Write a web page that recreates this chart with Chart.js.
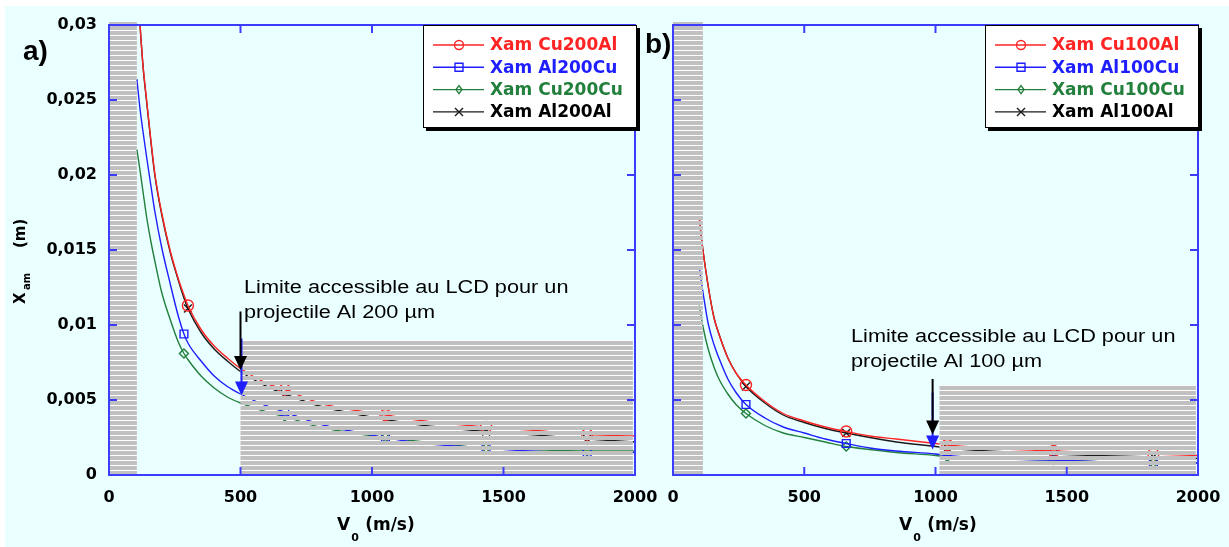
<!DOCTYPE html>
<html>
<head>
<meta charset="utf-8">
<script src="https://cdn.jsdelivr.net/npm/chart.js@4.4.1/dist/chart.umd.min.js"></script>
<style>
  body { margin: 0; background: #fff; }
  #wrap { position: absolute; left: 5px; top: 6px; width: 1224px; height: 541px; background: #eaffff; overflow: hidden; }
  #chartA { position: absolute; left: 0; top: 0; }
  #chartB { position: absolute; left: 638px; top: 0; }
</style>
</head>
<body>
<div id="wrap">
  <canvas id="chartA" width="660" height="541"></canvas>
  <canvas id="chartB" width="586" height="541"></canvas>
</div>
<script>
// a) projectiles 200 µm
const v0A = [106, 118, 130, 143, 160, 175, 200, 232, 265, 285, 300, 350, 400, 450, 500, 600, 668, 800, 1051, 1200, 1434, 1600, 1818, 2000];
const xamCu200Al = [0.0335, 0.0300, 0.0272, 0.0250, 0.0222, 0.0200, 0.0175, 0.0150, 0.0130, 0.0120, 0.0113, 0.0097, 0.0086, 0.0078, 0.0071, 0.0061, 0.0057, 0.0048, 0.0040, 0.0036, 0.0032, 0.0030, 0.0027, 0.0026];
const xamAl200Cu = [0.0264, 0.0244, 0.0228, 0.0212, 0.0192, 0.0175, 0.0152, 0.0128, 0.0105, 0.0094, 0.0088, 0.0076, 0.0066, 0.0059, 0.0054, 0.0046, 0.0042, 0.0034, 0.0025, 0.0021, 0.0018, 0.0016, 0.0015, 0.0015];
const xamCu200Cu = [0.0217, 0.0203, 0.0188, 0.0172, 0.0155, 0.0142, 0.0122, 0.0104, 0.0088, 0.0081, 0.0077, 0.0066, 0.0058, 0.0052, 0.0048, 0.0042, 0.0039, 0.0032, 0.0025, 0.0022, 0.0018, 0.0017, 0.0016, 0.0016];
const xamAl200Al = [0.0335, 0.0300, 0.0271, 0.0249, 0.0221, 0.0199, 0.0174, 0.0149, 0.0129, 0.0118, 0.0111, 0.0095, 0.0084, 0.0076, 0.0069, 0.0059, 0.0054, 0.0046, 0.0037, 0.0033, 0.0029, 0.0027, 0.0024, 0.0022];
const marquesA1 = [300, 668, 1051, 1434, 1818];   // Cu200Al, Al200Al
const marquesA2 = [285, 668, 1051, 1434, 1818];   // Al200Cu, Cu200Cu
const zonesA = [[0, 106, 0, 0.0302], [500, 1992, 0, 0.0090]];   // [v0 min, v0 max, x min, x max]

// b) projectiles 100 µm
const v0B = [100, 107, 114, 134, 156, 175, 209, 240, 278, 350, 420, 500, 580, 660, 750, 850, 1000, 1045, 1200, 1450, 1600, 1830, 2000];
const xamCu100Al = [0.0172, 0.0160, 0.0150, 0.0126, 0.0105, 0.0094, 0.0078, 0.0068, 0.0060, 0.0049, 0.0041, 0.0036, 0.0032, 0.0029, 0.0026, 0.0024, 0.0021, 0.0020, 0.0018, 0.0016, 0.0015, 0.0014, 0.0013];
const xamAl100Cu = [0.0139, 0.0130, 0.0122, 0.0101, 0.0087, 0.0078, 0.0064, 0.0055, 0.0047, 0.0038, 0.0032, 0.0028, 0.0024, 0.0021, 0.0018, 0.0016, 0.0014, 0.0013, 0.0011, 0.0010, 0.0009, 0.0008, 0.0008];
const xamCu100Cu = [0.0113, 0.0106, 0.0099, 0.0084, 0.0072, 0.0064, 0.0054, 0.0047, 0.0041, 0.0033, 0.0028, 0.0025, 0.0022, 0.0019, 0.0017, 0.0015, 0.0013, 0.0012, 0.0011, 0.0010, 0.0009, 0.0008, 0.0008];
const xamAl100Al = [0.0172, 0.0160, 0.0150, 0.0126, 0.0105, 0.0094, 0.0078, 0.0068, 0.0059, 0.0048, 0.0040, 0.0035, 0.0031, 0.0028, 0.0025, 0.0022, 0.0019, 0.0018, 0.0016, 0.0014, 0.0013, 0.0012, 0.0011];
const marquesB = [278, 660, 1045, 1450, 1830];
const zonesB = [[0, 114, 0, 0.0302], [1015, 1992, 0, 0.0060]];

const ROUGE = '#ff2424', BLEU = '#1e1eff', VERT = '#22803c', NOIR = '#1a1a1a';
const AXE = '#3c3cff';
const POLICE = '"DejaVu Sans", Verdana, sans-serif';

function serie(label, xs, ys, color, style, marques) {
  return {
    label,
    data: xs.map((v, i) => ({ x: v, y: ys[i] })),
    borderColor: color,
    backgroundColor: 'rgba(0,0,0,0)',
    borderWidth: 1.4,
    pointStyle: style,
    pointBorderColor: color,
    pointBackgroundColor: 'rgba(0,0,0,0)',
    pointBorderWidth: 1.4,
    pointRadius: c => (c.raw && marques.includes(c.raw.x)) ? (style === 'rectRot' ? 4.5 : 5.5) : 0,
    cubicInterpolationMode: 'monotone',
  };
}

function marqueur(ctx, style, x, y, color) {
  ctx.save();
  ctx.strokeStyle = color; ctx.lineWidth = 1.4;
  ctx.beginPath();
  if (style === 'circle') ctx.arc(x, y, 4.5, 0, Math.PI * 2);
  else if (style === 'rect') ctx.rect(x - 4, y - 4, 8, 8);
  else if (style === 'rectRot') { ctx.moveTo(x, y - 4); ctx.lineTo(x + 3, y); ctx.lineTo(x, y + 4); ctx.lineTo(x - 3, y); ctx.closePath(); }
  else { ctx.moveTo(x - 4, y - 4); ctx.lineTo(x + 4, y + 4); ctx.moveTo(x + 4, y - 4); ctx.lineTo(x - 4, y + 4); }
  ctx.stroke();
  ctx.restore();
}

function zone(chart, z) {
  const { x, y } = chart.scales;
  return { l: x.getPixelForValue(z[0]), r: x.getPixelForValue(z[1]), t: y.getPixelForValue(z[3]), b: y.getPixelForValue(z[2]) };
}

// texte étiré horizontalement (la figure d'origine est étirée)
function texteEtire(ctx, str, x, y, sx) {
  ctx.save();
  ctx.translate(x, y);
  ctx.scale(sx, 1);
  ctx.fillText(str, 0, 0);
  ctx.restore();
}

const decoPlugin = {
  id: 'deco',
  beforeDatasetsDraw(chart, _a, o) {
    const ctx = chart.ctx;
    ctx.save();
    ctx.fillStyle = '#ffffff';
    o.zones.forEach(z => { const r = zone(chart, z); ctx.fillRect(r.l, r.t, r.r - r.l, r.b - r.t); });
    ctx.restore();
  },
  afterDatasetsDraw(chart, _a, o) {
    const { ctx, chartArea: ca, scales: { x, y } } = chart;
    ctx.save();
    // hachures
    ctx.fillStyle = '#c0c0c0';
    o.zones.forEach(z => {
      const r = zone(chart, z);
      for (let yy = r.b; yy > r.t; yy -= 5) {
        const top = Math.max(r.t, yy - 4);
        ctx.fillRect(r.l, top, r.r - r.l, yy - top);
      }
    });
    // cadre et graduations vers l'intérieur
    ctx.strokeStyle = AXE; ctx.lineWidth = 2;
    ctx.strokeRect(ca.left, ca.top, ca.right - ca.left, ca.bottom - ca.top);
    ctx.beginPath();
    x.ticks.forEach(t => {
      if (t.value <= x.min || t.value >= x.max) return;
      const px = x.getPixelForValue(t.value);
      ctx.moveTo(px, ca.bottom); ctx.lineTo(px, ca.bottom - 8);
      ctx.moveTo(px, ca.top); ctx.lineTo(px, ca.top + 8);
    });
    y.ticks.forEach(t => {
      if (t.value <= y.min || t.value >= y.max) return;
      const py = y.getPixelForValue(t.value);
      ctx.moveTo(ca.left, py); ctx.lineTo(ca.left + 8, py);
      ctx.moveTo(ca.right, py); ctx.lineTo(ca.right - 8, py);
    });
    ctx.stroke();
    // flèches
    o.fleches.forEach(f => {
      const px = x.getPixelForValue(f.v0) + (f.dx || 0);
      const y1 = y.getPixelForValue(f.de), y2 = y.getPixelForValue(f.a);
      ctx.strokeStyle = f.couleur; ctx.fillStyle = f.couleur; ctx.lineWidth = 2;
      ctx.beginPath(); ctx.moveTo(px, y1); ctx.lineTo(px, y2 - 12); ctx.stroke();
      ctx.beginPath(); ctx.moveTo(px - 6.5, y2 - 14); ctx.lineTo(px + 6.5, y2 - 14); ctx.lineTo(px, y2); ctx.closePath(); ctx.fill();
    });
    ctx.restore();
  },
  afterDraw(chart, _a, o) {
    const ctx = chart.ctx;
    ctx.save();
    ctx.fillStyle = '#000';
    ctx.textBaseline = 'alphabetic';
    // annotation
    ctx.font = '17.5px "Liberation Sans", Arial, sans-serif';
    texteEtire(ctx, o.note[0], o.noteX, o.noteY, 1.24);
    texteEtire(ctx, o.note[1], o.noteX, o.noteY + 25, 1.24);
    // lettre du panneau
    ctx.font = 'bold 28px "Liberation Sans", Arial, sans-serif';
    ctx.fillText(o.lettre, o.lettreX, o.lettreY);
    // titre de l'axe x : V0 (m/s)
    ctx.font = 'bold 17px ' + POLICE;
    ctx.fillText('V', o.titreX, 524);
    const wV = ctx.measureText('V').width;
    ctx.fillText('(m/s)', o.titreX + wV + 15, 524);
    ctx.font = 'bold 11px ' + POLICE;
    ctx.fillText('0', o.titreX + wV + 1, 535);
    // titre de l'axe y : Xam (m)
    if (o.titreY) {
      ctx.save();
      ctx.translate(20, 298);
      ctx.rotate(-Math.PI / 2);
      ctx.font = 'bold 15px ' + POLICE;
      ctx.fillText('X', 0, 0);
      ctx.fillText('(m)', 56, 0);
      ctx.font = 'bold 10px ' + POLICE;
      ctx.fillText('am', 14, 5);
      ctx.restore();
    }
    // légende
    const L = o.legende;
    ctx.fillStyle = '#000';
    ctx.fillRect(L.left + 3, L.top + 3, L.w, L.h);
    ctx.fillStyle = '#fff';
    ctx.fillRect(L.left, L.top, L.w, L.h);
    ctx.strokeStyle = '#000'; ctx.lineWidth = 1;
    ctx.strokeRect(L.left + 0.5, L.top + 0.5, L.w - 1, L.h - 1);
    ctx.font = 'bold 17px ' + POLICE;
    ctx.textBaseline = 'middle';
    chart.data.datasets.forEach((ds, i) => {
      const yy = L.top + 20 + i * 22.3;
      ctx.strokeStyle = ds.borderColor; ctx.lineWidth = 1.4;
      ctx.beginPath(); ctx.moveTo(L.left + 10, yy); ctx.lineTo(L.left + 61, yy); ctx.stroke();
      marqueur(ctx, ds.pointStyle, L.left + 36, yy, ds.borderColor);
      ctx.fillStyle = ds.borderColor === NOIR ? '#000' : ds.borderColor;
      ctx.fillText(ds.label, L.left + 67, yy + 1);
    });
    ctx.restore();
  },
};

function options(deco, largeurY, margeDroite, etiquettesY) {
  return {
    responsive: false,
    animation: false,
    events: [],
    layout: { padding: { top: 19, right: margeDroite, left: 0, bottom: 0 } },
    plugins: { legend: { display: false }, tooltip: { enabled: false }, deco },
    scales: {
      x: {
        type: 'linear', min: 0, max: 2000,
        grid: { display: false, drawTicks: false }, border: { display: false },
        ticks: { stepSize: 500, padding: 13, color: '#000', maxRotation: 0,
                 font: { family: POLICE, weight: 'bold', size: 16 }, callback: v => String(v) },
        afterFit: s => { s.height = 72; s.paddingLeft = 0; s.paddingRight = 0; },
      },
      y: {
        type: 'linear', min: 0, max: 0.03,
        grid: { display: false, drawTicks: false }, border: { display: false },
        ticks: { display: etiquettesY, stepSize: 0.005, padding: 12, color: '#000',
                 font: { family: POLICE, weight: 'bold', size: 16 },
                 callback: v => v === 0 ? '0' : String(+v.toFixed(3)).replace('.', ',') },
        afterFit: s => { s.width = largeurY; s.paddingTop = 0; s.paddingBottom = 0; },
      },
    },
  };
}

new Chart(document.getElementById('chartA'), {
  type: 'line',
  data: {
    datasets: [
      serie('Xam Cu200Al', v0A, xamCu200Al, ROUGE, 'circle', marquesA1),
      serie('Xam Al200Cu', v0A, xamAl200Cu, BLEU, 'rect', marquesA2),
      serie('Xam Cu200Cu', v0A, xamCu200Cu, VERT, 'rectRot', marquesA2),
      serie('Xam Al200Al', v0A, xamAl200Al, NOIR, 'crossRot', marquesA1),
    ],
  },
  options: options({
    zones: zonesA,
    fleches: [
      { v0: 500, de: 0.0091, a: 0.0053, couleur: BLEU, dx: 1 },
      { v0: 500, de: 0.0109, a: 0.0070, couleur: '#000', dx: 0 },
    ],
    note: ['Limite accessible au LCD pour un', 'projectile Al 200 µm'],
    noteX: 239, noteY: 287,
    lettre: 'a)', lettreX: 18, lettreY: 54,
    titreX: 332, titreY: true,
    legende: { left: 418, top: 19, w: 214, h: 103 },
  }, 104, 30, true),
  plugins: [decoPlugin],
});

new Chart(document.getElementById('chartB'), {
  type: 'line',
  data: {
    datasets: [
      serie('Xam Cu100Al', v0B, xamCu100Al, ROUGE, 'circle', marquesB),
      serie('Xam Al100Cu', v0B, xamAl100Cu, BLEU, 'rect', marquesB),
      serie('Xam Cu100Cu', v0B, xamCu100Cu, VERT, 'rectRot', marquesB),
      serie('Xam Al100Al', v0B, xamAl100Al, NOIR, 'crossRot', marquesB),
    ],
  },
  options: options({
    zones: zonesB,
    fleches: [
      { v0: 989, de: 0.0055, a: 0.0017, couleur: BLEU, dx: 0 },
      { v0: 989, de: 0.0064, a: 0.0027, couleur: '#000', dx: 0 },
    ],
    note: ['Limite accessible au LCD pour un', 'projectile Al 100 µm'],
    noteX: 208, noteY: 336,
    lettre: 'b)', lettreX: 2, lettreY: 47,
    titreX: 256, titreY: false,
    legende: { left: 342, top: 19, w: 214, h: 103 },
  }, 30, 31, false),
  plugins: [decoPlugin],
});
</script>
</body>
</html>
